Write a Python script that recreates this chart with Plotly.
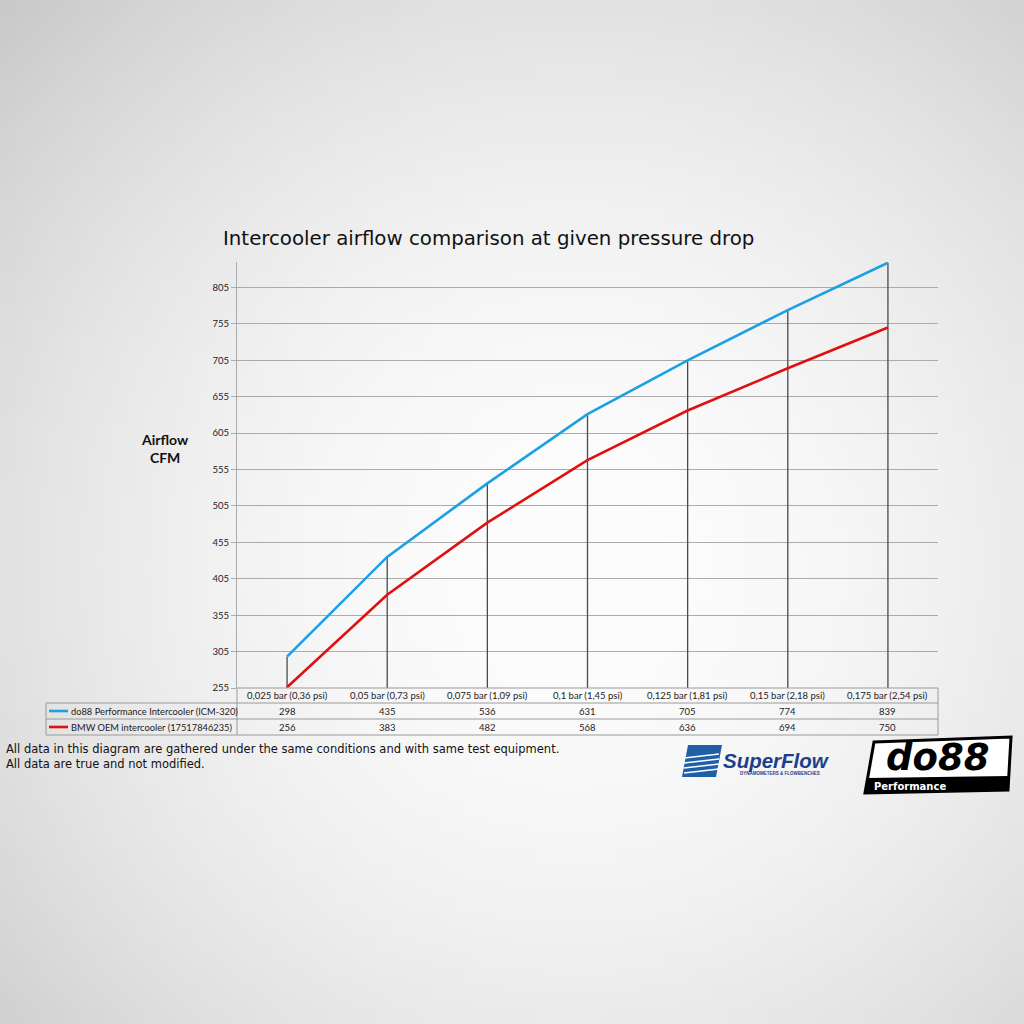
import base64, struct, zlib
import plotly.graph_objects as go

# ---------------- data ----------------
categories = ["0,025 bar (0,36 psi)", "0,05 bar (0,73 psi)", "0,075 bar (1,09 psi)",
              "0,1 bar (1,45 psi)", "0,125 bar (1,81 psi)", "0,15 bar (2,18 psi)",
              "0,175 bar (2,54 psi)"]
do88_values = [298, 435, 536, 631, 705, 774, 839]
bmw_values = [256, 383, 482, 568, 636, 694, 750]
series_names = ["do88 Performance Intercooler (ICM-320)", "BMW OEM intercooler (17517846235)"]
y_ticks = [255, 305, 355, 405, 455, 505, 555, 605, 655, 705, 755, 805]
y_min, y_max = 255, 840

title_text = "Intercooler airflow comparison at given pressure drop"
footer_lines = ["All data in this diagram are gathered under the same conditions and with same test equipment.",
                "All data are true and not modified."]

# ---------------- geometry (pixels) ----------------
W = H = 1024
L, R, T, B = 237, 938, 262, 688
PW, PH = R - L, B - T


def px(x):
    return (x - L) / PW


def py(y):
    return (B - y) / PH


BLUE = "#1ba1e2"
RED = "#e01010"
GRID = "#ababab"

# ---------------- background gradient image ----------------
def gradient_png(n=96):
    rows = b""
    cx, cy = 0.56, 0.55
    for j in range(n):
        row = b"\x00"
        for i in range(n):
            dx = (i + 0.5) / n - cx
            dy = (j + 0.5) / n - cy
            d = (dx * dx + dy * dy) ** 0.5
            v = 253 - 52 * min(1.0, d / 0.78) ** 1.9
            row += bytes([int(v)])
        rows += row

    def chunk(t, d):
        c = struct.pack(">I", len(d)) + t + d
        return c + struct.pack(">I", zlib.crc32(t + d) & 0xffffffff)

    png = b"\x89PNG\r\n\x1a\n"
    png += chunk(b"IHDR", struct.pack(">IIBBBBB", n, n, 8, 0, 0, 0, 0))
    png += chunk(b"IDAT", zlib.compress(rows, 9))
    png += chunk(b"IEND", b"")
    return "data:image/png;base64," + base64.b64encode(png).decode()


fig = go.Figure()

# drop lines from the do88 points to the axis floor
drop_x, drop_y = [], []
for c, v in zip(categories, do88_values):
    drop_x += [c, c, None]
    drop_y += [v, y_min, None]
fig.add_trace(go.Scatter(x=drop_x, y=drop_y, mode="lines",
                         line=dict(color="#4a4a4a", width=1.3),
                         hoverinfo="skip", showlegend=False))

fig.add_trace(go.Scatter(x=categories, y=bmw_values, mode="lines", name=series_names[1],
                         line=dict(color=RED, width=2.6), showlegend=False))
fig.add_trace(go.Scatter(x=categories, y=do88_values, mode="lines", name=series_names[0],
                         line=dict(color=BLUE, width=2.6), showlegend=False))

shapes = []
annotations = []

# ---------------- data table below the chart ----------------
tbl_col = "#9a9a9a"
row_lines = [703, 719, 735]
for yy in row_lines:
    shapes.append(dict(type="line", xref="paper", yref="paper", x0=px(46), x1=px(938),
                       y0=py(yy), y1=py(yy), line=dict(color=tbl_col, width=1)))
shapes.append(dict(type="line", xref="paper", yref="paper", x0=px(237), x1=px(938),
                   y0=py(688), y1=py(688), line=dict(color=tbl_col, width=1)))
for xx, ytop in [(46, 703), (237, 688), (938, 688)]:
    shapes.append(dict(type="line", xref="paper", yref="paper", x0=px(xx), x1=px(xx),
                       y0=py(ytop), y1=py(735), line=dict(color=tbl_col, width=1)))

tbl_font = dict(family="Lato, Open Sans, sans-serif", size=9.5, color="#222")
for c in categories:
    annotations.append(dict(x=c, xref="x", y=py(695.5), yref="paper", text=c, showarrow=False,
                            font=tbl_font, xanchor="center", yanchor="middle"))
for vals, yc in [(do88_values, 711), (bmw_values, 727)]:
    for c, v in zip(categories, vals):
        annotations.append(dict(x=c, xref="x", y=py(yc), yref="paper", text=str(v),
                                showarrow=False, font=tbl_font, xanchor="center", yanchor="middle"))

for name, col, yc in [(series_names[0], BLUE, 711), (series_names[1], RED, 727)]:
    shapes.append(dict(type="line", xref="paper", yref="paper", x0=px(49), x1=px(68),
                       y0=py(yc), y1=py(yc), line=dict(color=col, width=2.6)))
    annotations.append(dict(x=px(69), xref="paper", y=py(yc), yref="paper", text=name,
                            showarrow=False, xanchor="left", yanchor="middle",
                            font=dict(family="Lato, Open Sans, sans-serif", size=9.3, color="#222")))

# ---------------- titles and texts ----------------
annotations.append(dict(x=px(488), xref="paper", y=py(238), yref="paper", text=title_text,
                        showarrow=False, xanchor="center", yanchor="middle",
                        font=dict(family="DejaVu Sans, Verdana, sans-serif", size=19.8, color="#111")))
annotations.append(dict(x=px(165), xref="paper", y=py(448), yref="paper",
                        text="<b>Airflow</b><br><b>CFM</b>", showarrow=False,
                        xanchor="center", yanchor="middle",
                        font=dict(family="Lato, Open Sans, sans-serif", size=14, color="#111")))
for i, line in enumerate(footer_lines):
    annotations.append(dict(x=px(4), xref="paper", y=py(749 + 15 * i), yref="paper", text=line,
                            showarrow=False, xanchor="left", yanchor="middle",
                            font=dict(family="DejaVu Sans, Verdana, sans-serif", size=11.5, color="#111")))


# ---------------- logos (approximate) ----------------
def path(points):
    s = "M " + " L ".join(f"{px(a):.5f},{py(b):.5f}" for a, b in points) + " Z"
    return s


# SuperFlow icon
shapes.append(dict(type="path", xref="paper", yref="paper",
                   path=path([(688, 745), (722, 745), (716, 777), (682, 777)]),
                   fillcolor="#1f5fa8", line=dict(width=0)))
for k in range(4):
    yk = 754 + k * 5
    shapes.append(dict(type="line", xref="paper", yref="paper", x0=px(684), x1=px(719),
                       y0=py(yk + 4), y1=py(yk), line=dict(color="white", width=1.6)))
annotations.append(dict(x=px(721), xref="paper", y=py(760), yref="paper",
                        text="<b><i>SuperFlow</i></b>", showarrow=False, xanchor="left",
                        yanchor="middle",
                        font=dict(family="Liberation Sans, Arial, sans-serif", size=20.5, color="#1c3f8c")))
annotations.append(dict(x=px(780), xref="paper", y=py(773), yref="paper",
                        text="<b>DYNAMOMETERS &amp; FLOWBENCHES</b>", showarrow=False,
                        xanchor="center", yanchor="middle",
                        font=dict(family="Liberation Sans, Arial, sans-serif", size=4.5, color="#1c3f8c")))

# do88 logo
shapes.append(dict(type="path", xref="paper", yref="paper",
                   path=path([(874, 742), (1011, 737), (1008, 790), (865, 793)]),
                   fillcolor="white", line=dict(color="black", width=3)))
shapes.append(dict(type="path", xref="paper", yref="paper",
                   path=path([(867, 778), (1008, 776), (1008, 790), (865, 793)]),
                   fillcolor="black", line=dict(width=0)))
annotations.append(dict(x=px(937), xref="paper", y=py(757), yref="paper",
                        text="<b><i>do88</i></b>", showarrow=False, xanchor="center",
                        yanchor="middle",
                        font=dict(family="DejaVu Sans, Arial, sans-serif", size=37, color="black")))
annotations.append(dict(x=px(872), xref="paper", y=py(786), yref="paper",
                        text="<b>Performance</b>", showarrow=False, xanchor="left",
                        yanchor="middle",
                        font=dict(family="DejaVu Sans, Arial, sans-serif", size=10, color="white")))

fig.update_layout(
    width=W, height=H,
    margin=dict(l=L, r=W - R, t=T, b=H - B, pad=0),
    paper_bgcolor="#e6e6e6",
    plot_bgcolor="rgba(0,0,0,0)",
    showlegend=False,
    shapes=shapes,
    annotations=annotations,
    images=[dict(source=gradient_png(), xref="paper", yref="paper",
                 x=-L / PW, y=1 + T / PH, sizex=W / PW, sizey=H / PH,
                 sizing="stretch", layer="below", xanchor="left", yanchor="top")],
    xaxis=dict(type="category", categoryorder="array", categoryarray=categories,
               range=[-0.5, len(categories) - 0.5], showticklabels=False, showgrid=False,
               zeroline=False, showline=False, ticks=""),
    yaxis=dict(range=[y_min, y_max], tickvals=y_ticks, ticktext=[str(t) for t in y_ticks],
               showgrid=True, gridcolor=GRID, gridwidth=1, zeroline=False,
               showline=True, linecolor=GRID, linewidth=1, ticks="outside", ticklen=5,
               tickcolor=GRID, tickfont=dict(family="Lato, Open Sans, sans-serif", size=9.5,
                                             color="#222")),
)

fig.write_html("out.html", config={"displayModeBar": False},
               post_script="document.body.style.margin='0';document.body.style.overflow='hidden';")
